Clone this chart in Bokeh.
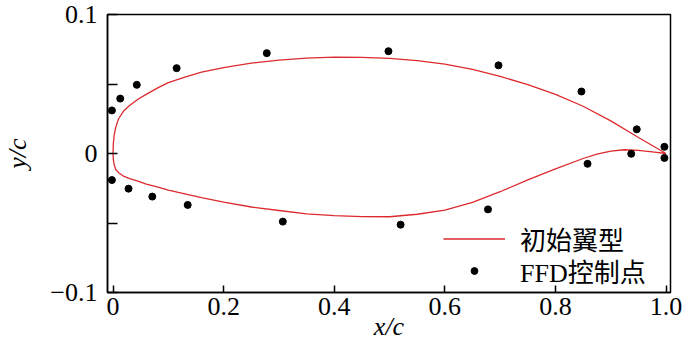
from bokeh.plotting import figure
from bokeh.models import FixedTicker, CustomJSTickFormatter, Legend, LegendItem, Range1d
from bokeh.embed import file_html
from bokeh.resources import INLINE

# Initial airfoil (upper and lower surfaces, leading edge -> trailing edge)
upper_x = [0.0, 0.0005, 0.002, 0.005, 0.01, 0.02, 0.03, 0.045, 0.06, 0.08, 0.1, 0.13, 0.16,
           0.2, 0.25, 0.3, 0.35, 0.4, 0.45, 0.5, 0.55, 0.6, 0.65, 0.7, 0.75, 0.8, 0.85, 0.9, 0.95, 1.0]
upper_y = [0.0, 0.007, 0.013, 0.019, 0.025, 0.031, 0.0345, 0.039, 0.0425, 0.047, 0.051, 0.055, 0.0585,
           0.0618, 0.065, 0.0672, 0.0686, 0.0693, 0.0692, 0.0684, 0.0668, 0.0643, 0.0605, 0.0555,
           0.0495, 0.0425, 0.034, 0.0235, 0.0115, 0.0]
lower_x = [0.0, 0.0005, 0.002, 0.005, 0.01, 0.02, 0.03, 0.045, 0.06, 0.08, 0.1, 0.13, 0.16,
           0.2, 0.25, 0.3, 0.35, 0.4, 0.45, 0.5, 0.55, 0.6, 0.65, 0.7, 0.75, 0.8, 0.85, 0.875,
           0.9, 0.925, 0.95, 0.975, 1.0]
lower_y = [0.0, -0.004, -0.008, -0.0115, -0.0138, -0.0165, -0.018, -0.0198, -0.022, -0.024, -0.0263,
           -0.029, -0.0317, -0.035, -0.0385, -0.041, -0.0435, -0.0447, -0.0454, -0.0455, -0.0437,
           -0.0408, -0.0352, -0.0275, -0.019, -0.011, -0.0036, -0.0005,
           0.0017, 0.0027, 0.0022, 0.0012, 0.0]

# FFD control points
ctrl_x = [-0.002, 0.013, 0.043, 0.115, 0.278, 0.498, 0.697, 0.847, 0.947, 0.997,
          -0.002, 0.028, 0.071, 0.135, 0.307, 0.520, 0.678, 0.858, 0.937, 0.997]
ctrl_y = [0.031, 0.0395, 0.0494, 0.0614, 0.0722, 0.0736, 0.0634, 0.0446, 0.0174, 0.0048,
          -0.0191, -0.0253, -0.031, -0.037, -0.049, -0.0512, -0.0402, -0.0074, -0.0002, -0.0032]

x_ticks = [0, 0.2, 0.4, 0.6, 0.8, 1.0]
y_ticks = [-0.1, 0, 0.1]
y_minor = [-0.05, 0.05]

line_label = "初始翼型"
pts_label = "FFD控制点"
x_title = "x/c"
y_title = "y/c"

SERIF = "Liberation Serif, Noto Sans CJK SC"
FS = "26px"

p = figure(width=684, height=343, output_backend="svg", toolbar_location=None,
           x_range=Range1d(-0.01, 1.008), y_range=Range1d(-0.1, 0.1),
           min_border_left=95, min_border_right=14, min_border_top=14, min_border_bottom=50)
p.grid.visible = False
p.outline_line_color = "black"
p.outline_line_width = 1.5
p.background_fill_color = "white"
p.border_fill_color = "white"

curve_x = upper_x[::-1] + lower_x[1:]
curve_y = upper_y[::-1] + lower_y[1:]
r_line = p.line(curve_x, curve_y, line_color="#dc2a2e", line_width=1.3)
r_pts = p.scatter(ctrl_x, ctrl_y, size=7, color="black")

fmt = CustomJSTickFormatter(code="""
if (Math.abs(tick) < 1e-9) return '0';
return (tick < 0 ? '\u2212' : '') + Math.abs(tick).toFixed(1);
""")

xa = p.xaxis[0]
xa.ticker = FixedTicker(ticks=x_ticks)
xa.formatter = fmt
xa.minor_tick_line_color = None
xa.major_tick_in = 7
xa.major_tick_out = 0
xa.axis_line_width = 1.5
xa.major_tick_line_width = 1.5
xa.major_label_text_font = SERIF
xa.major_label_text_font_size = FS
xa.major_label_text_color = "black"
xa.major_label_standoff = 5
xa.axis_label = x_title
xa.axis_label_text_font = SERIF
xa.axis_label_text_font_style = "italic"
xa.axis_label_text_font_size = FS
xa.axis_label_text_color = "black"
xa.axis_label_standoff = -6

ya = p.yaxis[0]
ya.ticker = FixedTicker(ticks=y_ticks, minor_ticks=y_minor)
ya.formatter = fmt
ya.major_tick_in = 10
ya.major_tick_out = 0
ya.minor_tick_in = 10
ya.minor_tick_out = 0
ya.minor_tick_line_width = 1.5
ya.minor_tick_line_color = "black"
ya.axis_line_width = 1.5
ya.major_tick_line_width = 1.5
ya.major_label_text_font = SERIF
ya.major_label_text_font_size = FS
ya.major_label_text_color = "black"
ya.major_label_standoff = 10
ya.axis_label = y_title
ya.axis_label_text_font = SERIF
ya.axis_label_text_font_style = "italic"
ya.axis_label_text_font_size = FS
ya.axis_label_text_color = "black"
ya.axis_label_standoff = 15

def make_legend(item, y):
    lg = Legend(items=[item], location=(336, y))
    lg.border_line_color = None
    lg.background_fill_alpha = 0
    lg.padding = 0
    lg.margin = 0
    lg.spacing = 0
    lg.glyph_width = 62
    lg.glyph_height = 17
    lg.label_height = 17
    lg.label_standoff = 15
    lg.label_text_font = SERIF
    lg.label_text_font_size = FS
    lg.label_text_color = "black"
    return lg

p.add_layout(make_legend(LegendItem(label=line_label, renderers=[r_line]), 35), "center")
p.add_layout(make_legend(LegendItem(label=pts_label, renderers=[r_pts]), 3), "center")

open("out.html", "w").write(file_html(p, INLINE))
